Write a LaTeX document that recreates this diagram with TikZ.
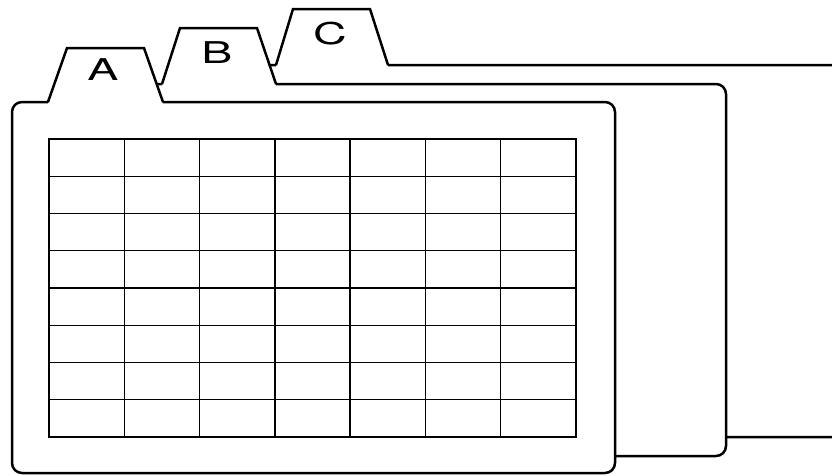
\documentclass[tikz,border=0pt]{standalone}
\usepackage{fontspec}
\setmainfont{TeX Gyre Heros}
\usepackage{xcolor}
\usepackage{tikz}
\usetikzlibrary{positioning}

\tikzset{
  card/.style={draw=black,fill=white,line width=2.5pt,rounded corners=10pt},
  tabfill/.style={fill=white},
  tabedge/.style={draw=black,line width=2.5pt,line join=miter},
  tablabel/.style={font=\fontsize{30}{31}\selectfont,xscale=1.55,inner sep=0pt},
  cell/.style={draw=black,line width=1.3pt}
}

\begin{document}
\begin{tikzpicture}[x=1pt,y=-1pt]
  \useasboundingbox (0,0) rectangle (832,475);
  % Card C (back)
  \draw[card] (234,65) rectangle (850,437);
  \fill[tabfill] (276,67) -- (293,9) -- (370,9) -- (388,67) -- cycle;
  \draw[tabedge] (276,65) -- (293,9) -- (370,9) -- (388,65);
  \node[tablabel] (labC) at (330,34) {C};
  % Card B
  \draw[card] (123,84) rectangle (726,456);
  \fill[tabfill] (162,86) -- (180,28) -- (257,28) -- (276,86) -- cycle;
  \draw[tabedge] (162,84) -- (180,28) -- (257,28) -- (276,84);
  \node[tablabel] (labB) at (217,52.5) {B};
  % Card A (front)
  \draw[card] (12,102) rectangle (615,473);
  \fill[tabfill] (48,104) -- (67,48) -- (144,48) -- (163,104) -- cycle;
  \draw[tabedge] (48,102) -- (67,48) -- (144,48) -- (163,102);
  \node[tablabel] (labA) at (103,70) {A};
  % table on card A: 7 columns, 8 rows
  \draw[cell] (49,139) rectangle (576,437);
  \foreach \i in {1,...,6} {
    \draw[cell] ({49+\i*527/7},139) -- ({49+\i*527/7},437);
  }
  \foreach \j in {1,...,7} {
    \draw[cell] (49,{139+\j*37.25}) -- (576,{139+\j*37.25});
  }
\end{tikzpicture}
\end{document}
